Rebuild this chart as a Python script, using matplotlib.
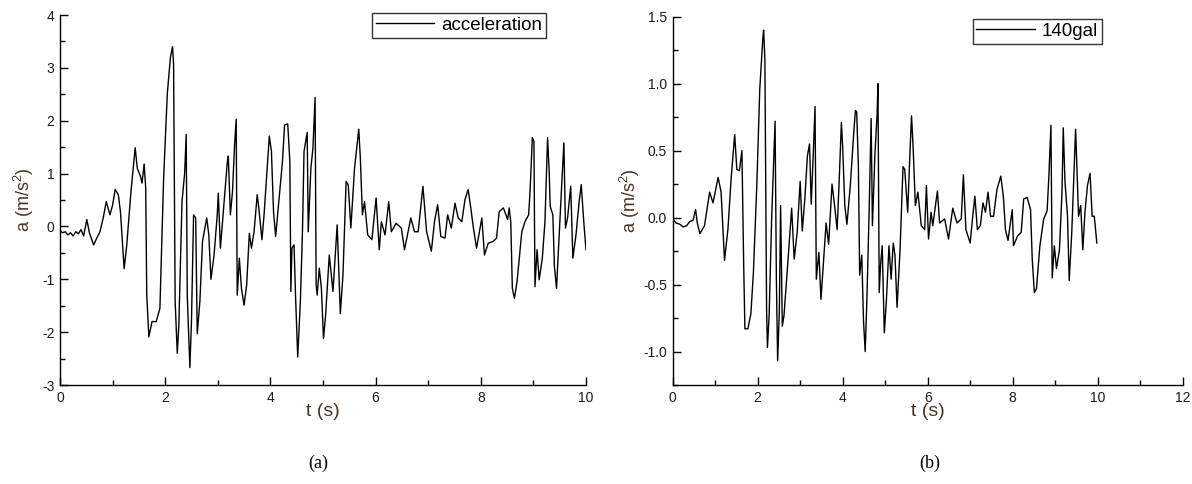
import numpy as np
import matplotlib
matplotlib.use("Agg")
from matplotlib import pyplot as plt
from matplotlib.ticker import MultipleLocator

plt.rcParams['font.family'] = ['Liberation Sans', 'DejaVu Sans']
plt.rcParams['axes.unicode_minus'] = False
plt.rcParams['mathtext.fontset'] = 'custom'
plt.rcParams['mathtext.rm'] = 'Liberation Sans'
plt.rcParams['mathtext.default'] = 'regular'

# (a) acceleration record
t_a = [0.00, 0.05, 0.10, 0.15, 0.20, 0.25, 0.30, 0.35, 0.40, 0.45, 0.51, 0.56, 0.64, 0.70, 0.76,
       0.82, 0.88, 0.95, 1.00, 1.05, 1.11, 1.15, 1.22, 1.27, 1.35, 1.43, 1.47, 1.53, 1.56, 1.60,
       1.63, 1.65, 1.69, 1.75, 1.83, 1.90, 1.97, 2.04, 2.10, 2.14, 2.16, 2.19, 2.23, 2.26, 2.32,
       2.37, 2.40, 2.42, 2.47, 2.50, 2.54, 2.58, 2.61, 2.66, 2.71, 2.79, 2.83, 2.87, 2.93, 2.99,
       3.01, 3.05, 3.12, 3.18, 3.20, 3.24, 3.28, 3.32, 3.35, 3.37, 3.41, 3.45, 3.50, 3.55, 3.60,
       3.64, 3.69, 3.75, 3.78, 3.84, 3.88, 3.93, 3.98, 4.02, 4.06, 4.10, 4.16, 4.23, 4.27, 4.33,
       4.37, 4.39, 4.41, 4.45, 4.48, 4.52, 4.57, 4.61, 4.64, 4.70, 4.72, 4.77, 4.81, 4.85, 4.87,
       4.89, 4.93, 4.97, 5.01, 5.05, 5.12, 5.19, 5.27, 5.33, 5.38, 5.44, 5.48, 5.53, 5.60, 5.68,
       5.71, 5.75, 5.79, 5.85, 5.93, 6.01, 6.07, 6.11, 6.18, 6.25, 6.30, 6.39, 6.49, 6.55, 6.67,
       6.74, 6.81, 6.90, 6.97, 7.06, 7.12, 7.18, 7.24, 7.32, 7.37, 7.44, 7.51, 7.57, 7.64, 7.70,
       7.76, 7.81, 7.86, 7.92, 8.02, 8.07, 8.14, 8.24, 8.30, 8.35, 8.43, 8.51, 8.54, 8.57, 8.60,
       8.64, 8.69, 8.78, 8.84, 8.91, 8.94, 8.98, 9.01, 9.03, 9.07, 9.11, 9.17, 9.22, 9.27, 9.30,
       9.32, 9.37, 9.40, 9.44, 9.49, 9.54, 9.58, 9.61, 9.65, 9.71, 9.75, 9.81, 9.87, 9.91, 9.96,
       10.00]
acc_a = [-0.08, -0.12, -0.10, -0.16, -0.12, -0.18, -0.10, -0.14, -0.06, -0.18, 0.13, -0.12, -0.35, -0.22, -0.10,
         0.15, 0.47, 0.22, 0.40, 0.70, 0.60, 0.28, -0.80, -0.35, 0.66, 1.49, 1.10, 0.95, 0.82, 1.18,
         0.73, -1.30, -2.09, -1.80, -1.80, -1.55, 0.89, 2.50, 3.20, 3.40, 3.07, -1.42, -2.40, -1.87, 0.47,
         1.00, 1.74, -1.30, -2.67, -1.80, 0.22, 0.16, -2.03, -1.42, -0.28, 0.16, -0.16, -1.00, -0.54, 0.22,
         0.63, -0.41, 0.47, 1.20, 1.33, 0.22, 0.66, 1.55, 2.03, -1.30, -0.60, -1.17, -1.49, -1.10, -0.13,
         -0.41, -0.10, 0.60, 0.35, -0.25, 0.22, 0.98, 1.71, 1.42, 0.28, -0.19, 0.47, 1.23, 1.92, 1.94,
         1.23, -1.23, -0.41, -0.35, -1.36, -2.47, -1.42, -0.10, 1.42, 1.78, -0.10, 1.10, 1.49, 2.44, -1.10,
         -1.30, -0.79, -1.17, -2.12, -1.68, -0.54, -1.23, 0.03, -1.65, -0.92, 0.85, 0.79, -0.03, 1.10, 1.84,
         1.30, 0.22, 0.47, -0.16, -0.25, 0.54, -0.44, 0.09, -0.16, 0.47, -0.10, 0.06, -0.03, -0.44, 0.16,
         -0.10, -0.10, 0.76, -0.10, -0.47, 0.09, 0.41, -0.19, -0.22, 0.22, -0.03, 0.44, 0.16, 0.09, 0.51,
         0.70, 0.35, -0.03, -0.41, 0.16, -0.54, -0.32, -0.28, -0.22, 0.28, 0.35, 0.13, 0.35, 0.09, -1.17,
         -1.36, -1.04, -0.10, 0.09, 0.22, 0.73, 1.68, 1.61, -1.14, -0.44, -1.01, -0.60, 0.09, 1.68, 1.04,
         0.38, 0.22, -0.76, -1.17, -0.16, 0.82, 1.58, -0.03, 0.16, 0.76, -0.60, -0.16, 0.47, 0.79, 0.06,
         -0.44]

# (b) 140gal record
t_b = [0.00, 0.08, 0.17, 0.25, 0.33, 0.40, 0.48, 0.54, 0.58, 0.64, 0.75, 0.87, 0.95, 1.07, 1.14,
       1.22, 1.30, 1.38, 1.46, 1.51, 1.57, 1.63, 1.67, 1.70, 1.77, 1.84, 1.90, 1.98, 2.05, 2.12,
       2.14, 2.17, 2.21, 2.23, 2.27, 2.33, 2.41, 2.44, 2.47, 2.51, 2.54, 2.58, 2.62, 2.70, 2.80,
       2.86, 2.93, 3.00, 3.05, 3.11, 3.17, 3.22, 3.26, 3.32, 3.35, 3.38, 3.44, 3.49, 3.56, 3.61,
       3.67, 3.75, 3.81, 3.87, 3.92, 3.97, 4.00, 4.05, 4.10, 4.18, 4.26, 4.30, 4.33, 4.37, 4.40,
       4.45, 4.49, 4.53, 4.57, 4.62, 4.67, 4.70, 4.76, 4.81, 4.83, 4.86, 4.89, 4.93, 4.98, 5.03,
       5.09, 5.14, 5.19, 5.23, 5.28, 5.35, 5.42, 5.46, 5.53, 5.58, 5.62, 5.66, 5.71, 5.77, 5.85,
       5.93, 5.97, 6.02, 6.08, 6.12, 6.23, 6.28, 6.40, 6.49, 6.59, 6.69, 6.79, 6.84, 6.90, 7.00,
       7.06, 7.11, 7.17, 7.24, 7.30, 7.36, 7.42, 7.48, 7.55, 7.63, 7.72, 7.78, 7.83, 7.89, 7.99,
       8.02, 8.11, 8.20, 8.26, 8.34, 8.42, 8.46, 8.51, 8.56, 8.64, 8.73, 8.81, 8.85, 8.90, 8.93,
       8.98, 9.03, 9.10, 9.16, 9.19, 9.23, 9.29, 9.33, 9.39, 9.44, 9.48, 9.55, 9.60, 9.65, 9.70,
       9.76, 9.82, 9.87, 9.92, 9.98]
acc_b = [-0.01, -0.04, -0.05, -0.07, -0.06, -0.03, -0.02, 0.06, -0.04, -0.12, -0.06, 0.19, 0.11, 0.30, 0.19,
         -0.32, -0.09, 0.31, 0.62, 0.36, 0.35, 0.50, -0.33, -0.83, -0.83, -0.72, -0.41, 0.24, 0.96, 1.33,
         1.40, 1.18, -0.68, -0.97, -0.73, 0.00, 0.72, -0.45, -1.07, -0.70, 0.09, -0.81, -0.73, -0.38, 0.07,
         -0.31, -0.11, 0.27, -0.10, 0.14, 0.46, 0.55, 0.10, 0.57, 0.83, -0.46, -0.26, -0.61, -0.28, -0.04,
         -0.20, 0.25, 0.09, -0.09, 0.29, 0.71, 0.53, 0.09, -0.05, 0.24, 0.63, 0.80, 0.79, 0.38, -0.43,
         -0.28, -0.77, -1.00, -0.61, 0.01, 0.74, -0.06, 0.48, 0.77, 1.00, -0.56, -0.36, -0.21, -0.86, -0.61,
         -0.21, -0.46, -0.19, -0.28, -0.67, -0.24, 0.38, 0.36, 0.04, 0.46, 0.76, 0.51, 0.09, 0.19, -0.06,
         -0.09, 0.24, -0.16, 0.04, -0.06, 0.20, -0.04, -0.01, -0.16, 0.07, -0.04, -0.01, 0.32, -0.09, -0.19,
         0.01, 0.16, -0.09, -0.06, 0.11, 0.04, 0.19, 0.01, 0.01, 0.21, 0.31, 0.16, -0.09, -0.17, 0.06,
         -0.21, -0.14, -0.11, 0.14, 0.15, 0.06, -0.31, -0.56, -0.53, -0.21, -0.01, 0.05, 0.30, 0.69, -0.45,
         -0.21, -0.38, -0.24, 0.19, 0.67, 0.27, 0.01, -0.47, -0.11, 0.33, 0.66, 0.01, 0.09, -0.24, 0.04,
         0.24, 0.33, 0.01, 0.01, -0.19]

label_color = '#4a3524'
tick_color = '#1a1a1a'

fig = plt.figure(figsize=(11.92, 4.84), dpi=100)
ax1 = fig.add_axes([0.0503, 0.2045, 0.4413, 0.7645])
ax2 = fig.add_axes([0.5643, 0.2045, 0.4279, 0.7610])


def style_axes(ax, ymaj, ymin, ypad):
    for side in ['top', 'right']:
        ax.spines[side].set_visible(False)
    for side in ['left', 'bottom']:
        ax.spines[side].set_linewidth(1.0)
    ax.xaxis.set_major_locator(MultipleLocator(2))
    ax.xaxis.set_minor_locator(MultipleLocator(1))
    ax.yaxis.set_major_locator(MultipleLocator(ymaj))
    ax.yaxis.set_minor_locator(MultipleLocator(ymin))
    ax.tick_params(which='major', direction='in', length=6, width=1,
                   labelsize=10, labelcolor=tick_color, pad=4)
    ax.tick_params(which='minor', direction='in', length=3.5, width=1)
    ax.set_xlabel('t (s)', fontsize=14, color=label_color, labelpad=-1)
    ax.set_ylabel('a (m/s$^2$)', fontsize=13, color=label_color, labelpad=ypad)


def add_legend(ax, anchor):
    leg = ax.legend(loc='upper right', bbox_to_anchor=anchor, fontsize=13.5, frameon=True,
                    fancybox=False, edgecolor='black', handlelength=3.1, borderpad=0.2,
                    handletextpad=0.4, borderaxespad=0.0)
    leg.get_frame().set_linewidth(1.0)


# 1. panel (a)
ax1.plot(t_a, acc_a, color='black', lw=1.0, label='acceleration')
ax1.set_xlim(0, 10)
ax1.set_ylim(-3, 4)
style_axes(ax1, 1, 0.5, 4)
add_legend(ax1, (0.924, 1.005))

# 2. panel (b)
ax2.plot(t_b, acc_b, color='black', lw=1.0, label='140gal')
ax2.set_xlim(0, 12)
ax2.set_ylim(-1.25, 1.5)
style_axes(ax2, 0.5, 0.25, 1)
ax2.yaxis.set_major_formatter(plt.FormatStrFormatter('%.1f'))
add_legend(ax2, (0.842, 0.994))

# 3. captions
fig.text(318 / 1192, 1 - 463 / 484, '(a)', ha='center', va='center',
         family='Liberation Serif', fontsize=13)
fig.text(930 / 1192, 1 - 463 / 484, '(b)', ha='center', va='center',
         family='Liberation Serif', fontsize=13)

fig.savefig('out.png', dpi=100)
